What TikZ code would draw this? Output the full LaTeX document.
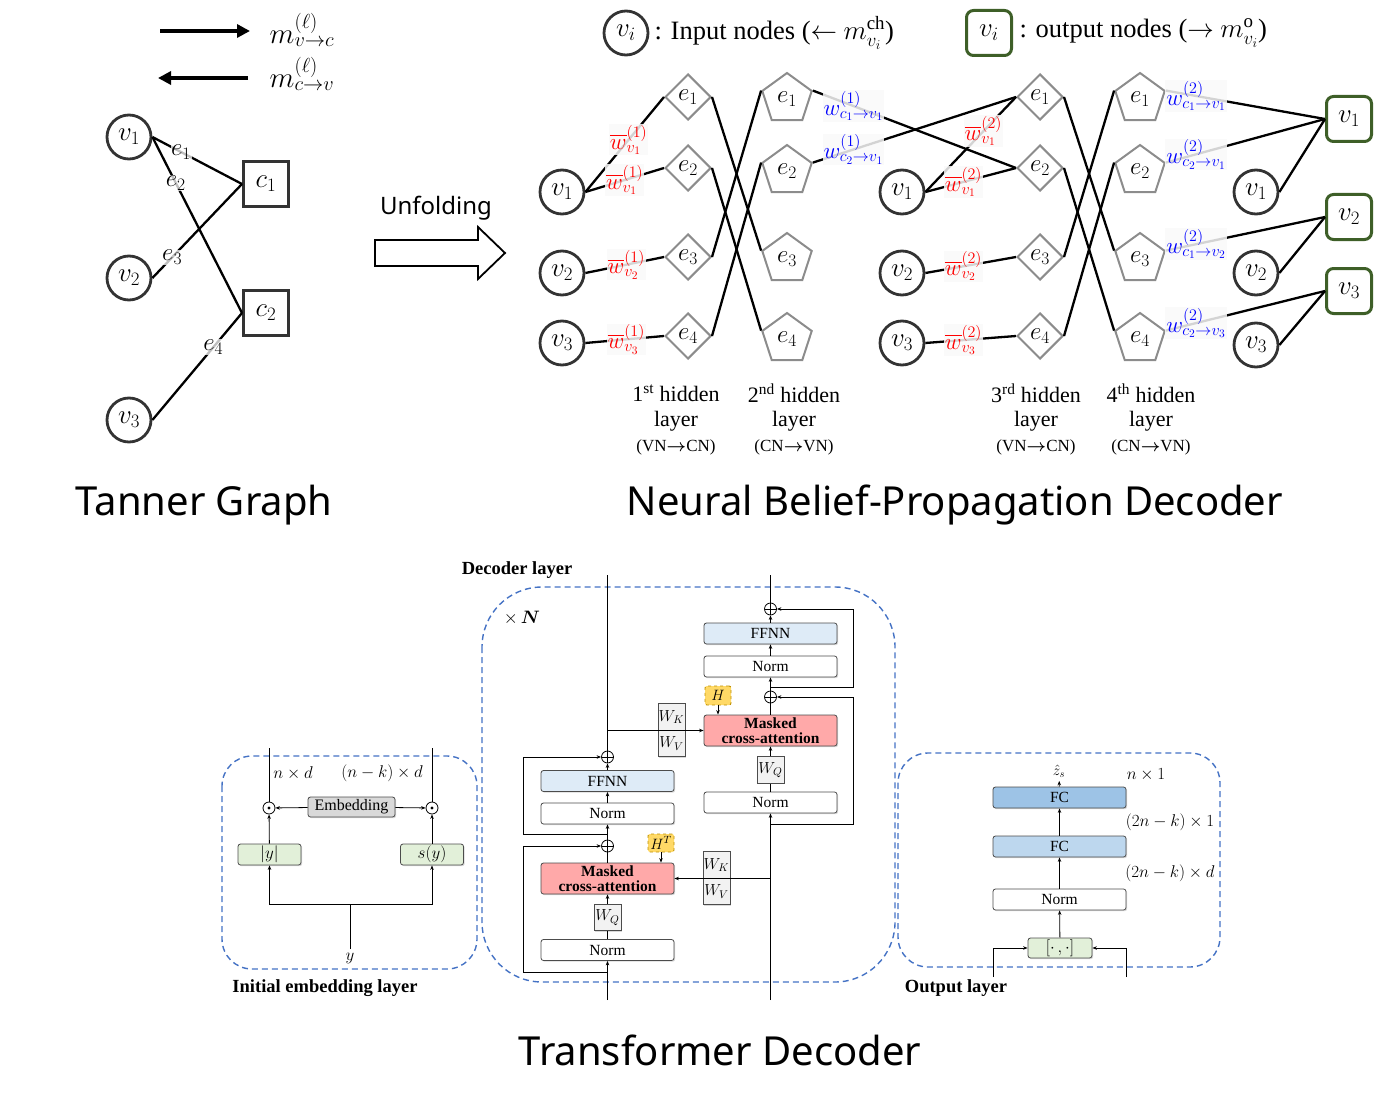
\RequirePackage{fix-cm}
\documentclass[tikz,border=0pt]{standalone}
\usepackage{amsmath}
\usepackage{fontspec}
\setmainfont{Liberation Serif}
\newfontfamily\ttlfont{Noto Sans}
\usetikzlibrary{shapes.geometric,arrows.meta,shadows,calc}
\definecolor{dgreen}{HTML}{3E5F28}
\definecolor{dashblue}{HTML}{4472C4}
\definecolor{ffnnc}{HTML}{DEEBF7}
\definecolor{maskc}{HTML}{FFA9A9}
\definecolor{hcol}{HTML}{FFD966}
\definecolor{hdraw}{HTML}{BF9000}
\definecolor{greenc}{HTML}{E2F0D9}
\definecolor{fcdark}{HTML}{9DC3E6}
\definecolor{fclight}{HTML}{BDD7EE}
\definecolor{wgray}{HTML}{F2F2F2}
\definecolor{embc}{HTML}{D9D9D9}
\newcommand\fsz[1]{\fontsize{#1}{#1}\selectfont}
\begin{document}
\begin{tikzpicture}[x=1pt,y=-1pt,
  vn/.style={circle,draw=black!80,line width=2.8pt,minimum size=44pt,inner sep=0pt,font=\fsz{27}},
  outn/.style={rectangle,rounded corners=7pt,draw=dgreen,line width=3pt,minimum size=45pt,inner sep=0pt,font=\fsz{27}},
  cn/.style={rectangle,draw=black!80,line width=3pt,minimum size=45pt,inner sep=0pt,font=\fsz{27}},
  dia/.style={diamond,aspect=1,draw=black!45,line width=2pt,minimum width=46pt,minimum height=46pt,inner sep=0pt,font=\fsz{25}},
  pent/.style={regular polygon,regular polygon sides=5,draw=black!45,line width=2pt,minimum size=52pt,inner sep=0pt,font=\fsz{25}},
  ed/.style={line width=2.3pt},
  elab/.style={fill=white,fill opacity=0.75,text opacity=1,inner sep=0.5pt,font=\fsz{25}},
  redlab/.style={text=red,fill=gray!5,fill opacity=0.85,text opacity=1,inner sep=1pt,font=\fsz{23}},
  bluelab/.style={text=blue,fill=gray!5,fill opacity=0.85,text opacity=1,inner sep=1pt,font=\fsz{23}},
  tb/.style={draw=black!70,line width=0.8pt,rounded corners=2.5pt,minimum width=133pt,minimum height=21pt,inner sep=0pt,font=\fsz{15.5},drop shadow={shadow xshift=1.2pt,shadow yshift=-1.2pt,opacity=0.3}},
  mbox/.style={tb,fill=maskc,minimum height=31pt,align=center,font=\fontsize{15.5}{15.5}\selectfont\bfseries},
  wbox/.style={draw=black!70,line width=0.8pt,fill=wgray,minimum width=27pt,minimum height=26.5pt,inner sep=0pt,font=\fsz{16},drop shadow={shadow xshift=1.2pt,shadow yshift=-1.2pt,opacity=0.3}},
  hbox/.style={draw=hdraw,dashed,line width=0.9pt,fill=hcol,rounded corners=2pt,minimum width=26pt,minimum height=19pt,inner sep=0pt,font=\fsz{15}},
  oplus/.style={circle,draw,line width=0.8pt,minimum size=12pt,inner sep=0pt,path picture={\draw[line width=0.8pt] (path picture bounding box.north) -- (path picture bounding box.south) (path picture bounding box.west) -- (path picture bounding box.east);}},
  odot/.style={circle,draw,line width=0.8pt,fill=white,minimum size=12pt,inner sep=0pt,path picture={\fill[black] (path picture bounding box.center) circle[radius=1.7pt];}},
  ta/.style={line width=0.8pt,-{Stealth[length=4.5pt,width=3.5pt]}},
  tl/.style={line width=0.8pt},
  dbox/.style={draw=dashblue,dash pattern=on 6pt off 4pt,line width=1.4pt},
  lbl/.style={font=\fsz{17}},
  blab/.style={font=\fsz{18.5}\bfseries},
  bigarrow/.style={line width=4pt,-{Triangle[length=13pt,width=13pt]}}
]
\useasboundingbox (0,0) rectangle (1375,1102);

% ---------------- Tanner graph ----------------
\coordinate (a1s) at (160,31); \coordinate (a1e) at (250,31);
\coordinate (a2s) at (248,78); \coordinate (a2e) at (158,78);
\draw[bigarrow] (a1s) -- (a1e);
\draw[bigarrow] (a2s) -- (a2e);
\node[font=\fsz{29}] (mlab1) at (302,30) {$m^{(\ell)}_{v\to c}$};
\node[font=\fsz{29}] (mlab2) at (302,74) {$m^{(\ell)}_{c\to v}$};

\node[vn] (tv1) at (129,137) {$v_1$};
\node[vn] (tv2) at (129,278) {$v_2$};
\node[vn] (tv3) at (129,420) {$v_3$};
\node[cn] (tc1) at (266,184) {$c_1$};
\node[cn] (tc2) at (266,313) {$c_2$};
\draw[ed] (tv1.east) -- node[elab,pos=.32] (te1) {$e_1$} (tc1.west);
\draw[ed] (tv1.east) -- node[elab,pos=.26] (te2) {$e_2$} (tc2.west);
\draw[ed] (tv2.east) -- node[elab,pos=.22] (te3) {$e_3$} (tc1.west);
\draw[ed] (tv3.east) -- node[elab,pos=.68] (te4) {$e_4$} (tc2.west);

% Unfolding arrow
\node[font=\ttlfont\fsz{24}] (unf) at (436,208) {Unfolding};
\draw[line width=1.8pt] (375,240) -- (478,240) -- (478,227) -- (505,253) -- (478,279) -- (478,266) -- (375,266) -- cycle;

% ---------------- Legend ----------------
\node[vn] (legv) at (626,33) {$v_i$};
\node[anchor=west,font=\fsz{26.5}] (legt1) at (651,33) {: Input nodes ($\leftarrow$ {\fsz{27}$m^{\mathrm{ch}}_{v_i}$})};
\node[outn] (lego) at (989,33) {$v_i$};
\node[anchor=west,font=\fsz{26.5}] (legt2) at (1016,33) {: output nodes ($\rightarrow$ {\fsz{27}$m^{\mathrm{o}}_{v_i}$})};

% ---------------- NBP decoder ----------------
\node[vn] (av1) at (562,192) {$v_1$};
\node[vn] (av2) at (562,273) {$v_2$};
\node[vn] (av3) at (562,343) {$v_3$};
\node[dia] (bd1) at (688,97) {$e_1$};
\node[dia] (bd2) at (688,168) {$e_2$};
\node[dia] (bd3) at (688,257) {$e_3$};
\node[dia] (bd4) at (688,336) {$e_4$};
\node[pent] (cp1) at (787,99) {$e_1$};
\node[pent] (cp2) at (787,171) {$e_2$};
\node[pent] (cp3) at (787,259) {$e_3$};
\node[pent] (cp4) at (787,339) {$e_4$};
\node[vn] (dv1) at (902,192) {$v_1$};
\node[vn] (dv2) at (902,273) {$v_2$};
\node[vn] (dv3) at (902,343) {$v_3$};
\node[dia] (ed1) at (1040,97) {$e_1$};
\node[dia] (ed2) at (1040,168) {$e_2$};
\node[dia] (ed3) at (1040,257) {$e_3$};
\node[dia] (ed4) at (1040,336) {$e_4$};
\node[pent] (fp1) at (1140,99) {$e_1$};
\node[pent] (fp2) at (1140,171) {$e_2$};
\node[pent] (fp3) at (1140,259) {$e_3$};
\node[pent] (fp4) at (1140,339) {$e_4$};
\node[vn] (gv1) at (1256,192) {$v_1$};
\node[vn] (gv2) at (1256,273) {$v_2$};
\node[vn] (gv3) at (1256,345) {$v_3$};
\node[outn] (ho1) at (1349,119) {$v_1$};
\node[outn] (ho2) at (1349,217) {$v_2$};
\node[outn] (ho3) at (1349,291) {$v_3$};

% layer 1
\draw[ed] (av1.east) -- node[redlab,pos=.55] (r11) {$\overline{w}^{(1)}_{v_1}$} (bd1.west);
\draw[ed] (av1.east) -- node[redlab,pos=.5] (r12) {$\overline{w}^{(1)}_{v_1}$} (bd2.west);
\draw[ed] (av2.east) -- node[redlab,pos=.52] (r13) {$\overline{w}^{(1)}_{v_2}$} (bd3.west);
\draw[ed] (av3.east) -- node[redlab,pos=.52] (r14) {$\overline{w}^{(1)}_{v_3}$} (bd4.west);
% layer 2
\draw[ed] (bd1.east) -- (cp3.corner 2);
\draw[ed] (bd2.east) -- (cp4.corner 2);
\draw[ed] (bd3.east) -- (cp1.corner 2);
\draw[ed] (bd4.east) -- (cp2.corner 2);
% layer 2 -> 3
\draw[ed] (cp1.corner 5) -- node[bluelab,pos=.2] (b11) {$w^{(1)}_{c_1\to v_1}$} (ed2.west);
\draw[ed] (cp2.corner 5) -- node[bluelab,pos=.2] (b12) {$w^{(1)}_{c_2\to v_1}$} (ed1.west);
% layer 3
\draw[ed] (dv1.east) -- node[redlab,pos=.64] (r21) {$\overline{w}^{(2)}_{v_1}$} (ed1.west);
\draw[ed] (dv1.east) -- node[redlab,pos=.42] (r22) {$\overline{w}^{(2)}_{v_1}$} (ed2.west);
\draw[ed] (dv2.east) -- node[redlab,pos=.42] (r23) {$\overline{w}^{(2)}_{v_2}$} (ed3.west);
\draw[ed] (dv3.east) -- node[redlab,pos=.42] (r24) {$\overline{w}^{(2)}_{v_3}$} (ed4.west);
% layer 4
\draw[ed] (ed1.east) -- (fp3.corner 2);
\draw[ed] (ed2.east) -- (fp4.corner 2);
\draw[ed] (ed3.east) -- (fp1.corner 2);
\draw[ed] (ed4.east) -- (fp2.corner 2);
% output
\draw[ed] (fp1.corner 5) -- node[bluelab,pos=.19] (b21) {$w^{(2)}_{c_1\to v_1}$} (ho1.west);
\draw[ed] (fp2.corner 5) -- node[bluelab,pos=.19] (b22) {$w^{(2)}_{c_2\to v_1}$} (ho1.west);
\draw[ed] (fp3.corner 5) -- node[bluelab,pos=.19] (b23) {$w^{(2)}_{c_1\to v_2}$} (ho2.west);
\draw[ed] (fp4.corner 5) -- node[bluelab,pos=.19] (b24) {$w^{(2)}_{c_2\to v_3}$} (ho3.west);
\draw[ed] (gv1.east) -- (ho1.west);
\draw[ed] (gv2.east) -- (ho2.west);
\draw[ed] (gv3.east) -- (ho3.west);

% hidden layer labels
\foreach \cx/\nm/\dir [count=\i] in {676/1\textsuperscript{st}/VN$\boldsymbol{\rightarrow}$CN, 794/2\textsuperscript{nd}/CN$\boldsymbol{\rightarrow}$VN, 1036/3\textsuperscript{rd}/VN$\boldsymbol{\rightarrow}$CN, 1151/4\textsuperscript{th}/CN$\boldsymbol{\rightarrow}$VN}{
  \node[font=\fsz{22}] (hla\i) at (\cx,393) {\nm\ hidden};
  \node[font=\fsz{22}] (hlb\i) at (\cx,421) {layer};
  \node[font=\fsz{17}] (hlc\i) at (\cx,447) {(\dir)};
}

% titles
\node[font=\ttlfont\fsz{40}] (t1) at (204,505) {Tanner Graph};
\node[font=\ttlfont\fsz{40}] (t2) at (955,505) {Neural Belief-Propagation Decoder};
\node[font=\ttlfont\fsz{40}] (t3) at (720,1050) {Transformer Decoder};

% ---------------- Initial embedding layer ----------------
\draw[dbox,rounded corners=30pt] (222,756) rectangle (477,969);
\node[odot] (odl) at (269,808) {};
\node[odot] (odr) at (432,808) {};
\node[tb,fill=embc,minimum width=87pt,minimum height=20pt,font=\fsz{16}] (emb) at (351.5,807) {Embedding};
\node[tb,fill=greenc,minimum width=63pt,font=\fsz{17}] (absy) at (269.5,854.5) {$|y|$};
\node[tb,fill=greenc,minimum width=63pt,font=\fsz{17}] (sy) at (432,854.5) {$s(y)$};
\coordinate (etl) at (269,748); \coordinate (etr) at (432,748);
\coordinate (yj) at (350,904);
\node[lbl] (ylab) at (350,958) {$y$};
\draw[tl] (odl) -- (etl);
\draw[tl] (odr) -- (etr);
\draw[ta] (emb) -- (odl);
\draw[ta] (emb) -- (odr);
\draw[ta] (absy) -- (odl);
\draw[ta] (sy) -- (odr);
\draw[tl] (ylab.north) -- (yj);
\draw[ta] (yj) -| (absy.south);
\draw[ta] (yj) -| (sy.south);
\node[lbl] (nd) at (293,773) {$n\times d$};
\node[lbl] (nkd) at (382,773) {$(n-k)\times d$};
\node[blab] (iel) at (325,988) {Initial embedding layer};

% ---------------- Decoder layer ----------------
\draw[dbox,rounded corners=60pt] (482,587) rectangle (895,982);
\node[blab] (dlab) at (517,570) {Decoder layer};
\node[font=\fsz{18}] (xn) at (522,618) {$\times\,\boldsymbol{N}$};

% right column
\node[oplus] (pr1) at (770.5,609) {};
\node[tb,fill=ffnnc] (ffr) at (770.5,633.5) {FFNN};
\node[tb,fill=white] (nr1) at (770.5,666.5) {Norm};
\node[oplus] (pr2) at (770.5,697) {};
\node[hbox] (hr) at (718,695.5) {$H$};
\node[mbox] (mr) at (770.5,730.5) {Masked\\cross-attention};
\node[wbox] (wkr) at (671.5,717) {$W_K$};
\node[wbox] (wvr) at (671.5,743.5) {$W_V$};
\node[wbox] (wqr) at (770.5,770) {$W_Q$};
\node[tb,fill=white] (nr2) at (770.5,802.5) {Norm};
% left column
\node[oplus] (pl1) at (607.5,757) {};
\node[tb,fill=ffnnc] (ffl) at (607.5,781) {FFNN};
\node[tb,fill=white] (nl1) at (607.5,813.5) {Norm};
\node[oplus] (pl2) at (607.5,846) {};
\node[hbox,minimum height=18pt] (hl) at (661,843) {$H^T$};
\node[mbox] (ml) at (607.5,878.5) {Masked\\cross-attention};
\node[wbox] (wkl) at (716.5,865) {$W_K$};
\node[wbox] (wvl) at (716.5,891.5) {$W_V$};
\node[wbox] (wql) at (607.5,917.5) {$W_Q$};
\node[tb,fill=white] (nl2) at (607.5,950) {Norm};

\coordinate (ctl) at (607.5,575); \coordinate (cbl) at (607.5,1000);
\coordinate (ctr) at (770.5,575); \coordinate (cbr) at (770.5,1000);
\coordinate (jl) at (607.5,730.5); \coordinate (jr) at (770.5,878.5);
\coordinate (sr1) at (770.5,687); \coordinate (kr1) at (853,687);
\coordinate (sr2) at (770.5,824); \coordinate (kr2) at (853,824);
\coordinate (sl1) at (607.5,834); \coordinate (kl1) at (523,834);
\coordinate (sl2) at (607.5,972); \coordinate (kl2) at (523,972);

\draw[tl] (pl1) -- (ctl);
\draw[ta] (ffl) -- (pl1);
\draw[ta] (nl1) -- (ffl);
\draw[ta] (pl2) -- (nl1);
\draw[tl] (ml) -- (pl2);
\draw[ta] (wql) -- (ml);
\draw[tl] (nl2) -- (wql);
\draw[ta] (cbl) -- (nl2);
\draw[ta] (jl) -- (mr.west);
\draw[ta] (sl1) -- (kl1) |- (pl1);
\draw[ta] (sl2) -- (kl2) |- (pl2);
\draw[ta] (hl.south) -- (hl.south |- ml.north);

\draw[tl] (pr1) -- (ctr);
\draw[ta] (ffr) -- (pr1);
\draw[ta] (nr1) -- (ffr);
\draw[ta] (pr2) -- (nr1);
\draw[tl] (mr) -- (pr2);
\draw[ta] (wqr) -- (mr);
\draw[tl] (nr2) -- (wqr);
\draw[ta] (cbr) -- (nr2);
\draw[ta] (jr) -- (ml.east);
\draw[ta] (sr1) -- (kr1) |- (pr1);
\draw[ta] (sr2) -- (kr2) |- (pr2);
\draw[ta] (hr.south) -- (hr.south |- mr.north);

% ---------------- Output layer ----------------
\draw[dbox,rounded corners=30pt] (898,753) rectangle (1220,967);
\node[tb,fill=fcdark] (fc2) at (1059.5,797.5) {FC};
\node[tb,fill=fclight] (fc1) at (1059.5,846.5) {FC};
\node[tb,fill=white] (no) at (1059.5,899.5) {Norm};
\node[tb,fill=greenc,minimum width=64pt,minimum height=20pt,font=\fsz{17}] (cat) at (1060,948) {$[\cdot\,,\cdot]$};
\node[font=\fsz{15}] (zs) at (1059,771) {$\hat{z}_s$};
\coordinate (oil) at (993,977); \coordinate (oir) at (1126,977);
\draw[ta] (oil) |- (cat.west);
\draw[ta] (oir) |- (cat.east);
\draw[ta] (cat) -- (no);
\draw[ta] (no) -- (fc1);
\draw[ta] (fc1) -- (fc2);
\draw[ta] (fc2) -- (zs);
\node[lbl] (on1) at (1146,775) {$n\times 1$};
\node[lbl] (on2) at (1170,822) {$(2n-k)\times 1$};
\node[lbl] (on3) at (1170,873) {$(2n-k)\times d$};
\node[blab] (olab) at (956,988) {Output layer};
\end{tikzpicture}
\end{document}
